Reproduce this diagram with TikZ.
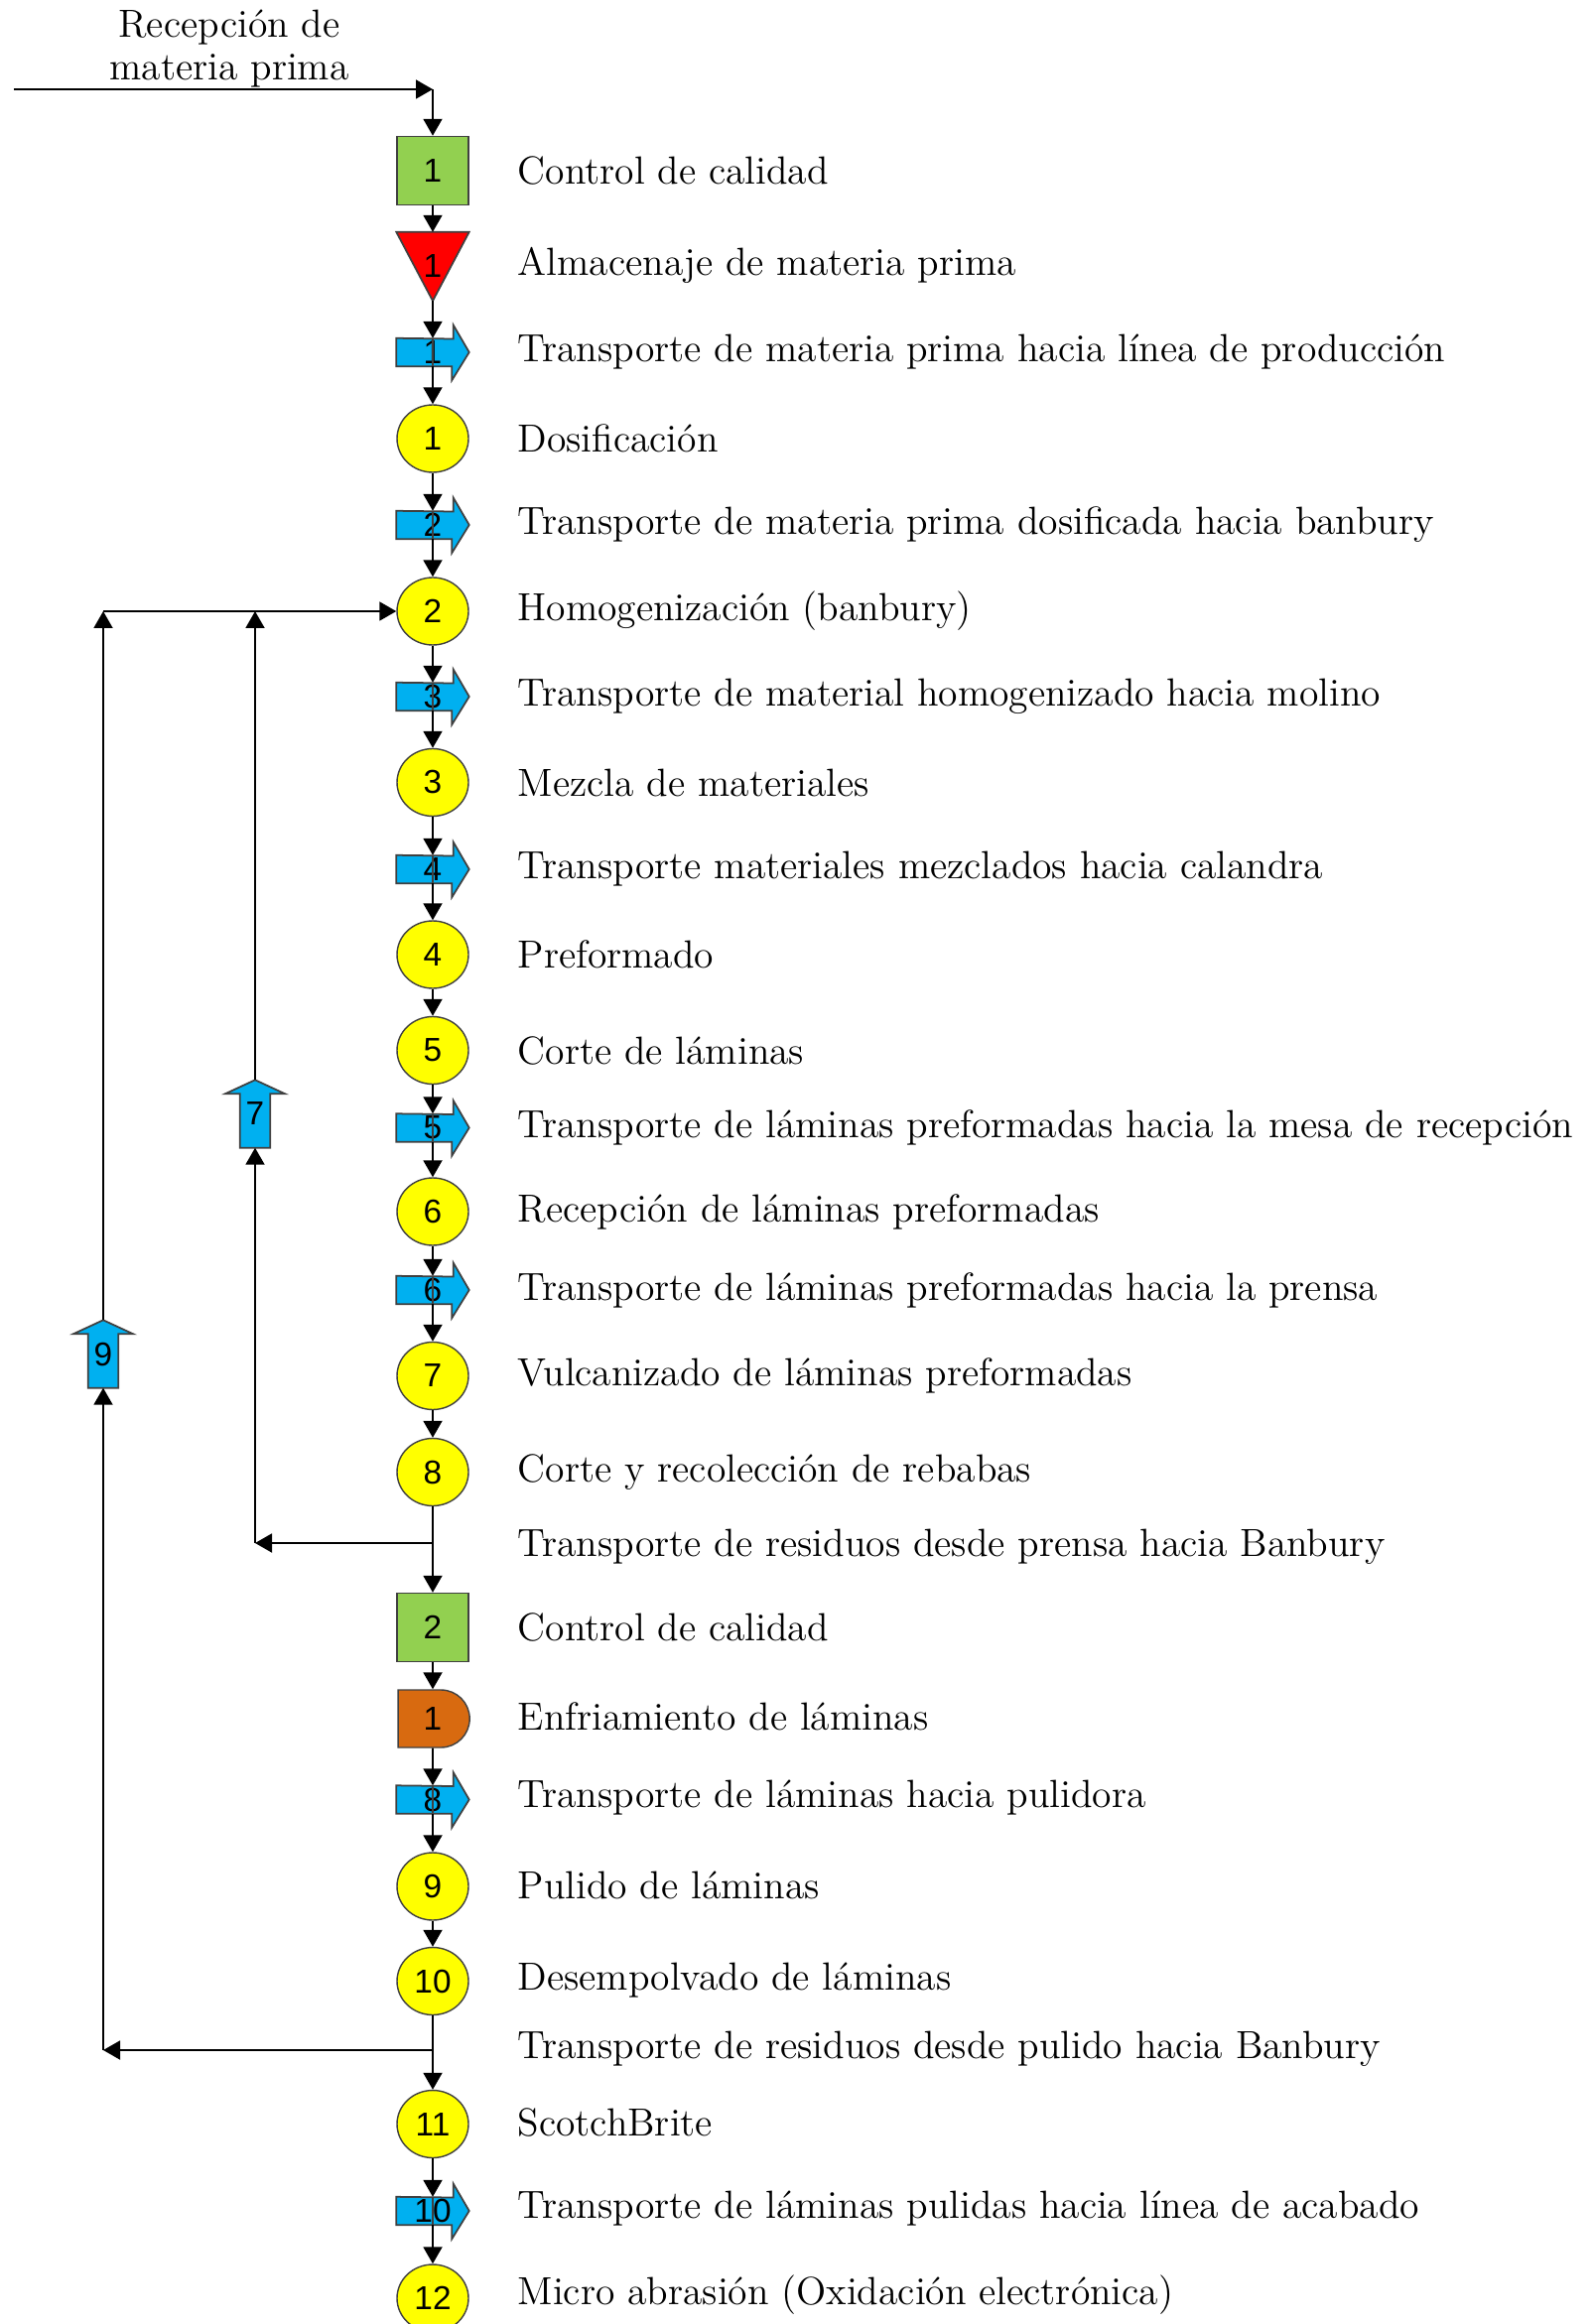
\documentclass[tikz,border=0pt]{standalone}
\usepackage{fontspec}
\newfontfamily\numfont{Liberation Sans}
\usetikzlibrary{arrows.meta,shapes.geometric,shapes.misc,backgrounds,positioning}
\definecolor{qcgreen}{RGB}{146,208,80}
\definecolor{opyellow}{RGB}{255,255,0}
\definecolor{trblue}{RGB}{0,176,240}
\definecolor{stred}{RGB}{255,0,0}
\definecolor{dlorange}{RGB}{216,106,16}
\definecolor{edgegray}{RGB}{64,64,64}
\begin{document}
\begin{tikzpicture}[
                opnode/.style={
                    draw=edgegray, fill=opyellow, ellipse, minimum width=0.72cm, minimum height=0.68cm,
                    inner sep=0pt, font=\numfont\fontsize{9.5}{11}\selectfont
                },
                qcnode/.style={
                    draw=edgegray, fill=qcgreen, rectangle, minimum width=0.72cm, minimum height=0.69cm,
                    inner sep=0pt, font=\numfont\fontsize{9.5}{11}\selectfont
                },
                stnode/.style={
                    rectangle, minimum width=0.72cm, minimum height=0.68cm,
                    inner sep=0pt, font=\numfont\fontsize{9.5}{11}\selectfont
                },
                trnode/.style={
                    rectangle, minimum width=0.72cm, minimum height=0.27cm,
                    inner sep=0pt, font=\numfont\fontsize{9.5}{11}\selectfont
                },
                upnode/.style={
                    rectangle, minimum width=0.29cm, minimum height=0.67cm,
                    inner sep=0pt, font=\numfont\fontsize{9.5}{11}\selectfont
                },
                dlnode/.style={
                    draw=edgegray, fill=dlorange, rounded rectangle, rounded rectangle west arc=none,
                    minimum width=0.72cm, minimum height=0.58cm,
                    inner sep=0pt, font=\numfont\fontsize{9.5}{11}\selectfont
                },
                lbl/.style={
                    anchor=west, inner sep=0pt, font=\fontsize{11.25}{13}\selectfont
                },
                flow/.style={
                    line width=0.55pt, -{Triangle[length=0.17cm,width=0.19cm]}
                },
                shapeline/.style={
                    draw=edgegray, line width=0.5pt
                }
            ]
            \useasboundingbox (0,0) rectangle (16.05,-23.42);

            \node[align=center, inner sep=0pt, font=\fontsize{11.25}{12.2}\selectfont] (rec) at (2.31,-0.49) {Recepción de\\materia prima};
            \coordinate (src) at (0.14,-0.90);
            \coordinate (in) at (4.36,-0.90);

            \node[qcnode] (q1) at (4.36,-1.72) {1};
            \node[stnode] (a1) at (4.36,-2.685) {1};
            \node[trnode] (t1) at (4.36,-3.55) {1};
            \node[opnode] (c1) at (4.36,-4.42) {1};
            \node[trnode] (t2) at (4.36,-5.29) {2};
            \node[opnode] (c2) at (4.36,-6.16) {2};
            \node[trnode] (t3) at (4.36,-7.02) {3};
            \node[opnode] (c3) at (4.36,-7.885) {3};
            \node[trnode] (t4) at (4.36,-8.76) {4};
            \node[opnode] (c4) at (4.36,-9.62) {4};
            \node[opnode] (c5) at (4.36,-10.585) {5};
            \node[trnode] (t5) at (4.36,-11.365) {5};
            \node[opnode] (c6) at (4.36,-12.21) {6};
            \node[trnode] (t6) at (4.36,-13.0) {6};
            \node[opnode] (c7) at (4.36,-13.865) {7};
            \node[opnode] (c8) at (4.36,-14.835) {8};
            \coordinate (br1) at (4.36,-15.55);
            \node[qcnode] (q2) at (4.36,-16.40) {2};
            \node[dlnode] (d1) at (4.36,-17.32) {1};
            \node[trnode] (t8) at (4.36,-18.135) {8};
            \node[opnode] (c9) at (4.36,-19.01) {9};
            \node[opnode] (c10) at (4.36,-19.965) {10};
            \coordinate (br2) at (4.36,-20.66);
            \node[opnode] (c11) at (4.36,-21.405) {11};
            \node[trnode] (t10) at (4.36,-22.28) {10};
            \node[opnode] (c12) at (4.36,-23.16) {12};

            % return loops
            \coordinate (k7) at (2.57,-15.55);
            \node[upnode] (u7) at (2.57,-11.225) {7};
            \coordinate (h7) at (2.57,-6.16);
            \coordinate (k9) at (1.04,-20.66);
            \node[upnode] (u9) at (1.04,-13.645) {9};
            \coordinate (h9) at (1.04,-6.16);

            % shapes behind the numbers
            \begin{pgfonlayer}{background}
            \filldraw[shapeline, fill=stred] (a1.north west) -- (a1.north east) -- (a1.south) -- cycle;
            \foreach \t in {t1,t2,t3,t4,t5,t6,t8,t10}
                \filldraw[shapeline, fill=trblue] (\t.south west) -- ++(0.56,0) -- ++(0,-0.14) -- (\t.east)
                    -- ++(-0.16,0.275) -- ++(0,-0.14) -- (\t.north west) -- cycle;
            \foreach \u in {u7,u9}
                \filldraw[shapeline, fill=trblue] (\u.south west) -- (\u.south east) -- ([yshift=-0.14cm]\u.north east)
                    -- ++(0.15,0) -- (\u.north) -- ([xshift=-0.15cm,yshift=-0.14cm]\u.north west)
                    -- ([yshift=-0.14cm]\u.north west) -- cycle;
            \end{pgfonlayer}

            % labels
            \node[lbl] (lq1) at (5.21,-1.72) {Control de calidad};
            \node[lbl] (la1) at (5.21,-2.67) {Almacenaje de materia prima};
            \node[lbl] (lt1) at (5.21,-3.55) {Transporte de materia prima hacia línea de producción};
            \node[lbl] (lc1) at (5.21,-4.42) {Dosificación};
            \node[lbl] (lt2) at (5.21,-5.29) {Transporte de materia prima dosificada hacia banbury};
            \node[lbl] (lc2) at (5.21,-6.16) {Homogenización (banbury)};
            \node[lbl] (lt3) at (5.21,-7.02) {Transporte de material homogenizado hacia molino};
            \node[lbl] (lc3) at (5.21,-7.885) {Mezcla de materiales};
            \node[lbl] (lt4) at (5.21,-8.76) {Transporte materiales mezclados hacia calandra};
            \node[lbl] (lc4) at (5.21,-9.62) {Preformado};
            \node[lbl] (lc5) at (5.21,-10.585) {Corte de láminas};
            \node[lbl] (lt5) at (5.21,-11.365) {Transporte de láminas preformadas hacia la mesa de recepción};
            \node[lbl] (lc6) at (5.21,-12.21) {Recepción de láminas preformadas};
            \node[lbl] (lt6) at (5.21,-13.0) {Transporte de láminas preformadas hacia la prensa};
            \node[lbl] (lc7) at (5.21,-13.865) {Vulcanizado de láminas preformadas};
            \node[lbl] (lc8) at (5.21,-14.835) {Corte y recolección de rebabas};
            \node[lbl] (lb1) at (5.21,-15.59) {Transporte de residuos desde prensa hacia Banbury};
            \node[lbl] (lq2) at (5.21,-16.40) {Control de calidad};
            \node[lbl] (ld1) at (5.21,-17.30) {Enfriamiento de láminas};
            \node[lbl] (lt8) at (5.21,-18.12) {Transporte de láminas hacia pulidora};
            \node[lbl] (lc9) at (5.21,-19.0) {Pulido de láminas};
            \node[lbl] (lc10) at (5.21,-19.96) {Desempolvado de láminas};
            \node[lbl] (lb2) at (5.21,-20.65) {Transporte de residuos desde pulido hacia Banbury};
            \node[lbl] (lc11) at (5.21,-21.39) {ScotchBrite};
            \node[lbl] (lt10) at (5.21,-22.26) {Transporte de láminas pulidas hacia línea de acabado};
            \node[lbl] (lc12) at (5.21,-23.13) {Micro abrasión (Oxidación electrónica)};

            % main flow
            \draw[flow] (src) -- (in);
            \draw[flow] (in) -- (q1);
            \draw[flow] (q1) -- (a1);
            \draw[flow] (a1.south) -- (t1);
            \draw[flow] (t1) -- (c1);
            \draw[flow] (c1) -- (t2);
            \draw[flow] (t2) -- (c2);
            \draw[flow] (c2) -- (t3);
            \draw[flow] (t3) -- (c3);
            \draw[flow] (c3) -- (t4);
            \draw[flow] (t4) -- (c4);
            \draw[flow] (c4) -- (c5);
            \draw[flow] (c5) -- (t5);
            \draw[flow] (t5) -- (c6);
            \draw[flow] (c6) -- (t6);
            \draw[flow] (t6) -- (c7);
            \draw[flow] (c7) -- (c8);
            \draw[line width=0.55pt] (c8) -- (br1);
            \draw[flow] (br1) -- (q2);
            \draw[flow] (q2) -- (d1);
            \draw[flow] (d1) -- (t8);
            \draw[flow] (t8) -- (c9);
            \draw[flow] (c9) -- (c10);
            \draw[line width=0.55pt] (c10) -- (br2);
            \draw[flow] (br2) -- (c11);
            \draw[flow] (c11) -- (t10);
            \draw[flow] (t10) -- (c12);
            \foreach \t in {t1,t2,t3,t4,t5,t6,t8,t10}
                \draw[line width=0.5pt, edgegray] (\t.north) -- (\t.south);

            % residues back to banbury
            \draw[flow] (br1) -- (k7);
            \draw[flow] (k7) -- (u7);
            \draw[flow] (u7) -- (h7);
            \draw[flow] (br2) -- (k9);
            \draw[flow] (k9) -- (u9);
            \draw[flow] (u9) -- (h9);
            \draw[flow] (h9) -- (c2);
            \end{tikzpicture}
\end{document}
